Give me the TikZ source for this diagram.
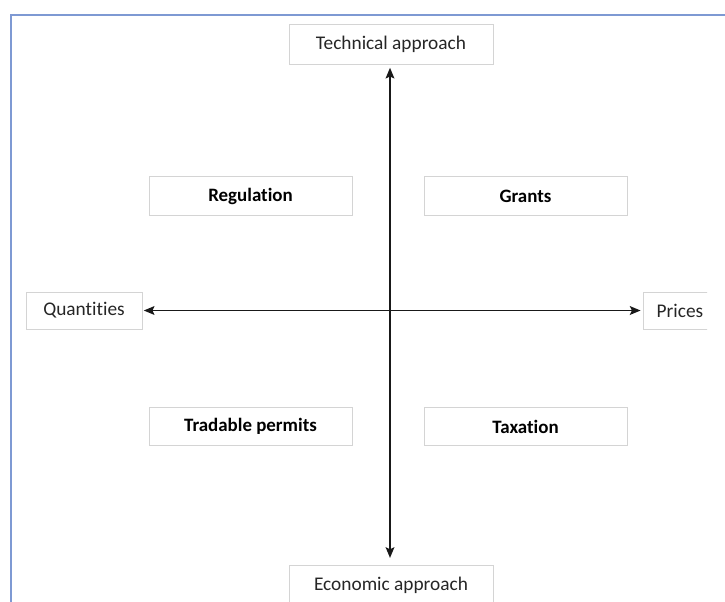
\documentclass[tikz,border=0pt]{standalone}
\usepackage{fontspec}
\setmainfont{Carlito}[Ligatures={NoCommon}]
\usetikzlibrary{arrows.meta}
\definecolor{boxgray}{HTML}{D4D4D4}
\definecolor{textgray}{HTML}{262626}
\definecolor{framebl}{HTML}{7E99D3}
\begin{document}
\begin{tikzpicture}[x=0.75pt,y=-0.75pt,
  box/.style={draw=boxgray, line width=0.6pt, fill=white, inner sep=0pt,
    font=\fontsize{14.5}{16}\selectfont, text=textgray},
  quad/.style={box, minimum width=152.25pt, minimum height=28.75pt,
    font=\fontsize{14.2}{16}\selectfont\bfseries, text=black},
  axis/.style={line width=1.4pt, draw=black!90, {Stealth[length=8pt,width=6.5pt,inset=1.5pt]}-{Stealth[length=8pt,width=6.5pt,inset=1.5pt]}},
  frame/.style={draw=framebl, line width=1.5pt}
]
\useasboundingbox (0,0) rectangle (725,601);
\clip (0,0) rectangle (725,601);
\fill[white] (0,0) rectangle (725,601);
\draw[frame] (11,602) -- (11,15) -- (726,15);

\node[box, minimum width=153pt, minimum height=30pt] (tech) at (391,44) {Technical approach};
\node[box, minimum width=153pt, minimum height=30pt] (econ) at (391,585) {Economic approach};
\node[box, minimum width=87pt, minimum height=27.75pt] (quant) at (84,310.5) {Quantities};
\begin{scope}
  \clip (0,0) rectangle (707,601);
  \node[box, minimum width=55.5pt, minimum height=27.75pt] (prices) at (680,310.5) {Prices};
\end{scope}

\node[quad] (reg) at (250.5,196) {Regulation};
\node[quad] (grants) at (525.5,196) {Grants};
\node[quad] (trad) at (250.5,426.5) {Tradable permits};
\node[quad] (tax) at (525.5,426.5) {Taxation};

\draw[axis, shorten <=2.5pt, shorten >=5pt] (tech.south -| 390,0) -- (econ.north -| 390,0);
\draw[axis, shorten <=1pt, shorten >=1.5pt] (quant.east) -- (prices.west);
\end{tikzpicture}
\end{document}
